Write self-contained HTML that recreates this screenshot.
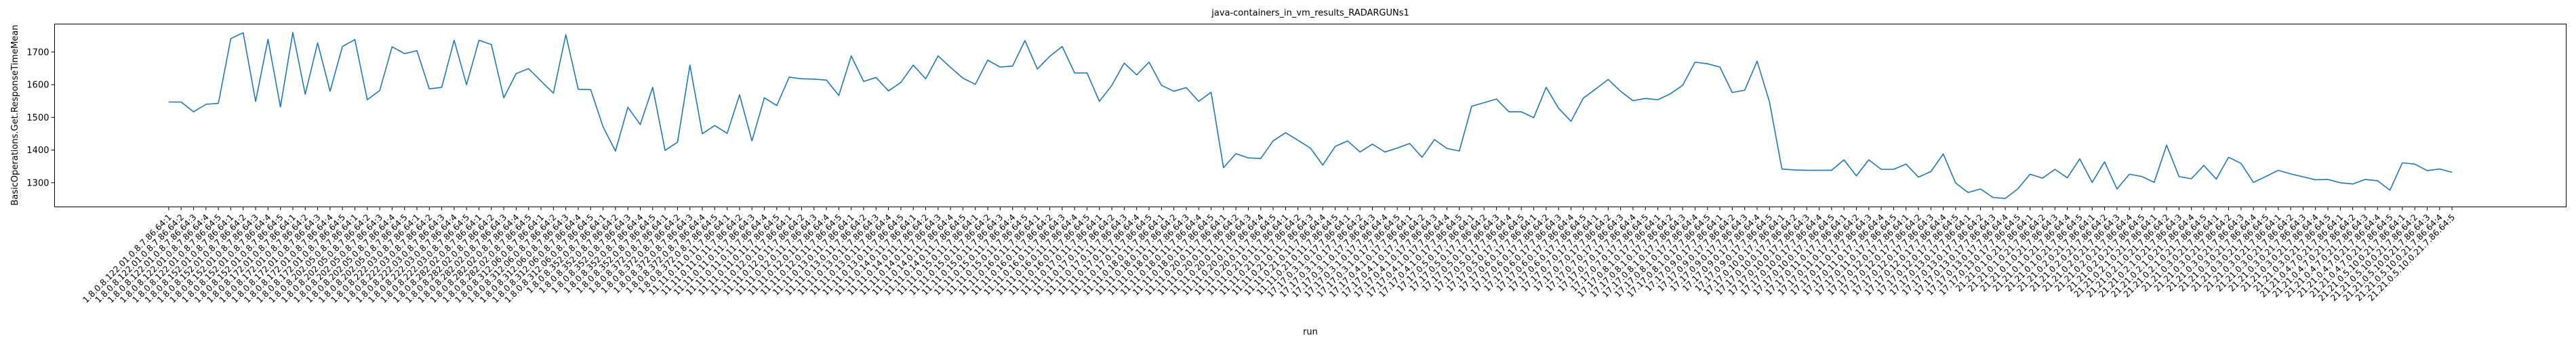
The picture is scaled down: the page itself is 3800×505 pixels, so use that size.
<!DOCTYPE html>
<html><head><meta charset="utf-8"><style>
html,body{margin:0;padding:0;background:#fff;}
svg text{font-family:"DejaVu Sans","Liberation Sans",sans-serif;fill:#000;}
</style></head><body>
<svg id="chart" width="3800" height="500" xmlns="http://www.w3.org/2000/svg">
<rect x="0" y="0" width="3800" height="500" fill="#fff"/>
<text x="1933" y="23" font-size="13" text-anchor="middle">java-containers_in_vm_results_RADARGUNs1</text>
<text x="1933" y="494" font-size="13" text-anchor="middle">run</text>
<text transform="translate(26,170) rotate(-90)" font-size="13" text-anchor="middle">BasicOperations.Get.ResponseTimeMean</text>
<g id="yaxis"></g>
<g id="xaxis"></g>
<g id="series"></g>
<rect x="80.5" y="35.5" width="3705" height="270" fill="none" stroke="#000" stroke-width="1"/>
</svg>
<script>
const groupNames = [
"1.8.0.8.122.01.0.8.7.86.64","1.8.0.8.152.01.0.8.7.86.64","1.8.0.8.172.01.0.8.7.86.64","1.8.0.8.202.05.0.8.7.86.64",
"1.8.0.8.222.03.0.8.7.86.64","1.8.0.8.282.02.0.8.7.86.64","1.8.0.8.312.06.0.8.7.86.64","1.8.0.8.352.0.8.7.86.64",
"1.8.0.8.372.0.8.7.86.64","11.11.0.11.0.11.7.86.64","11.11.0.12.0.11.7.86.64","11.11.0.13.0.11.7.86.64",
"11.11.0.14.0.11.7.86.64","11.11.0.15.0.11.7.86.64","11.11.0.16.0.11.7.86.64","11.11.0.17.0.11.7.86.64",
"11.11.0.18.0.11.7.86.64","11.11.0.20.0.11.7.86.64","11.11.0.21.0.11.7.86.64","17.17.0.3.1.0.17.7.86.64",
"17.17.0.4.1.0.17.7.86.64","17.17.0.5.0.17.7.86.64","17.17.0.6.0.17.7.86.64","17.17.0.7.0.17.7.86.64",
"17.17.0.8.1.0.17.7.86.64","17.17.0.9.0.17.7.86.64","17.17.0.10.0.17.7.86.64","17.17.0.11.0.17.7.86.64",
"17.17.0.12.0.17.7.86.64","17.17.0.13.0.17.7.86.64","21.21.0.1.0.21.7.86.64","21.21.0.2.0.21.7.86.64",
"21.21.0.2.1.0.21.7.86.64","21.21.0.3.0.21.7.86.64","21.21.0.3.0.21.7.86.64","21.21.0.4.7.0.21.7.86.64",
"21.21.0.5.10.0.21.7.86.64"];
const runsPerGroup = [1,2,3,4,5];
const values = [
1547,1547,1517,1540,1543,1741,1759,1549,1739,1532,1760,1571,1728,1580,1717,1738,1554,1582,1716,1695,
1704,1587,1592,1736,1600,1736,1723,1560,1634,1649,1611,1574,1753,1586,1585,1471,1397,1531,1478,1592,
1399,1424,1660,1450,1475,1451,1569,1428,1560,1536,1623,1618,1617,1614,1567,1688,1610,1622,1581,1607,
1660,1618,1688,1653,1620,1601,1675,1654,1657,1735,1648,1687,1717,1636,1636,1549,1598,1666,1630,1669,
1598,1580,1591,1549,1577,1346,1389,1376,1374,1428,1453,1430,1406,1354,1411,1428,1394,1418,1394,1406,
1420,1378,1432,1405,1397,1534,1545,1556,1517,1517,1499,1592,1528,1488,1559,1587,1616,1580,1551,1558,
1554,1572,1598,1669,1664,1654,1576,1583,1672,1547,1342,1339,1338,1338,1338,1370,1321,1370,1341,1341,
1357,1317,1334,1388,1299,1270,1281,1255,1252,1281,1326,1314,1341,1315,1373,1301,1364,1281,1326,1319,
1301,1415,1319,1312,1353,1311,1378,1359,1301,1319,1338,1327,1318,1309,1310,1300,1296,1310,1306,1277,
1361,1357,1337,1342,1332];
const yTicks = [1300,1400,1500,1600,1700];

const categories = [];
groupNames.forEach(g => runsPerGroup.forEach(r => categories.push(g + ":" + r)));

const NS = "http://www.w3.org/2000/svg";
const plotL = 80.5, plotR = 3785.5, plotT = 35.5, plotB = 305.5;
const n = values.length;
const pad = (n - 1) * 0.05;
function xScale(i){ return plotL + (i + pad) / ((n - 1) + 2 * pad) * (plotR - plotL); }
const yMin = 1226, yMax = 1785.6;
function yScale(v){ return plotB - (v - yMin) / (yMax - yMin) * (plotB - plotT); }

const yaxis = document.getElementById('yaxis');
yTicks.forEach(t => {
  const y = yScale(t);
  const ln = document.createElementNS(NS, 'line');
  ln.setAttribute('x1', plotL - 5); ln.setAttribute('x2', plotL);
  ln.setAttribute('y1', y); ln.setAttribute('y2', y);
  ln.setAttribute('stroke', '#000'); ln.setAttribute('stroke-width', '1');
  
  
  yaxis.appendChild(ln);
  const tx = document.createElementNS(NS, 'text');
  tx.setAttribute('x', plotL - 8); tx.setAttribute('y', y + 4.5);
  tx.setAttribute('font-size', '13'); tx.setAttribute('text-anchor', 'end');
  tx.textContent = t;
  
  
  yaxis.appendChild(tx);
});

const xaxis = document.getElementById('xaxis');
categories.forEach((c, i) => {
  const x = xScale(i);
  const ln = document.createElementNS(NS, 'line');
  ln.setAttribute('x1', x); ln.setAttribute('x2', x);
  ln.setAttribute('y1', plotB); ln.setAttribute('y2', plotB + 5);
  ln.setAttribute('stroke', '#000'); ln.setAttribute('stroke-width', '1');
  
  
  xaxis.appendChild(ln);
  const tx = document.createElementNS(NS, 'text');
  tx.setAttribute('transform', 'translate(' + (x + 5) + ',' + (plotB + 16) + ') rotate(-45)');
  tx.setAttribute('font-size', '12.5'); tx.setAttribute('text-anchor', 'end');
  tx.textContent = c;
  
  
  xaxis.appendChild(tx);
});

const series = document.getElementById('series');
const pl = document.createElementNS(NS, 'polyline');
pl.setAttribute('points', values.map((v, i) => xScale(i).toFixed(2) + ',' + yScale(v).toFixed(2)).join(' '));
pl.setAttribute('fill', 'none'); pl.setAttribute('stroke', '#1f77b4');
pl.setAttribute('stroke-width', '1.6'); pl.setAttribute('stroke-linejoin', 'round');


series.appendChild(pl);
</script>
</body></html>
